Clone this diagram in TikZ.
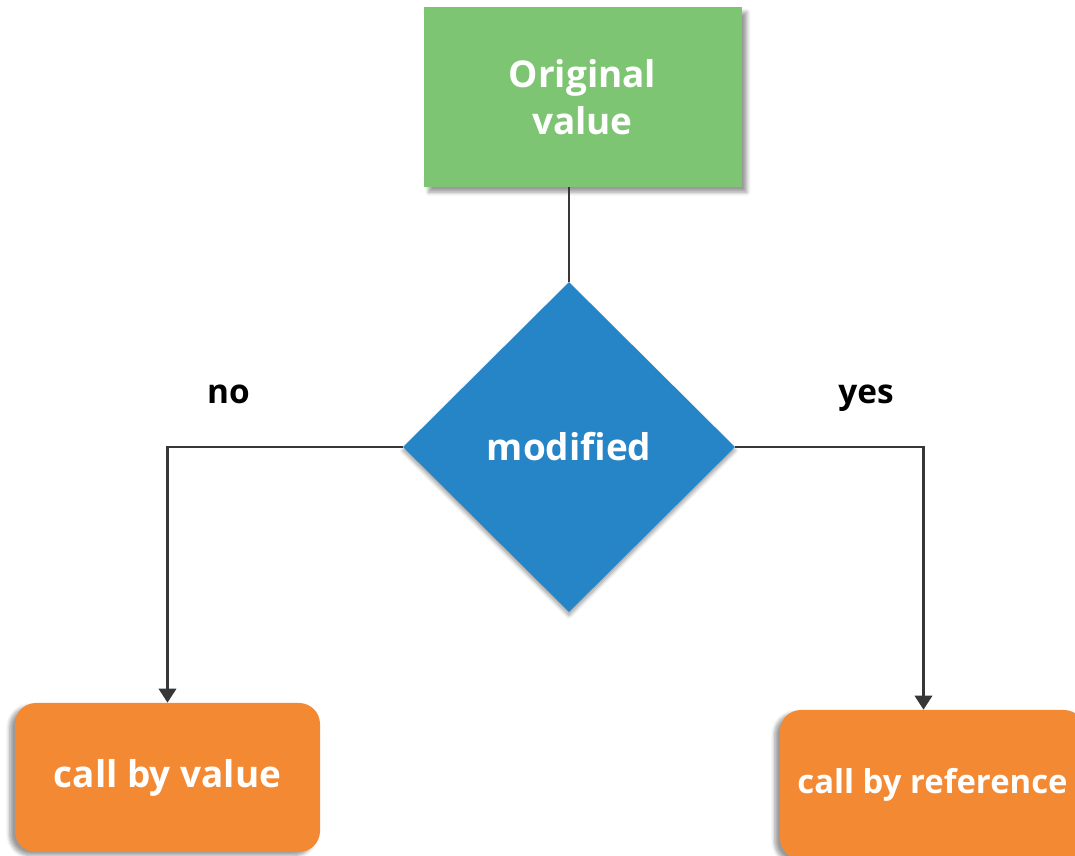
\documentclass[tikz,border=0pt]{standalone}
\usepackage{fontspec}
\setmainfont{Open Sans}
\usepackage{tikz}
\usetikzlibrary{shapes.geometric,arrows.meta,shadows.blur}
\definecolor{boxgreen}{RGB}{125,197,114}
\definecolor{diamondblue}{RGB}{37,133,199}
\definecolor{boxorange}{RGB}{244,137,52}
\definecolor{linegray}{RGB}{55,55,55}
\tikzset{
	flowtext/.style={text=white,font=\fontsize{21}{27}\selectfont\bfseries,align=center},
	startbox/.style={flowtext,fill=boxgreen,minimum width=6.36cm,minimum height=3.6cm,blur shadow={shadow xshift=3pt,shadow yshift=-3pt,shadow blur steps=6}},
	decision/.style={flowtext,diamond,aspect=1,inner sep=0pt,fill=diamondblue,minimum width=6.64cm,minimum height=6.6cm,blur shadow={shadow xshift=0pt,shadow yshift=-2pt,shadow blur steps=6}},
	endbox/.style={flowtext,fill=boxorange,rounded corners=0.42cm,minimum width=6.1cm,minimum height=2.98cm,blur shadow={shadow xshift=-3pt,shadow yshift=-2pt,shadow blur steps=6}},
	branch/.style={draw=linegray,line width=1.3pt},
	answer/.style={anchor=base,font=\fontsize{19}{24}\selectfont\bfseries}
}

\begin{document}
\begin{tikzpicture}
					\useasboundingbox (0,0) rectangle (21.5,17.12);
					
					%nodes of the flow chart
					\node[startbox] (orig) at (11.65,15.18) {Original\\value};
					\node[decision] (modified) at (11.38,8.18) {modified};
					\node[endbox] (byvalue) at (3.35,1.57) {call by value};
					\node[endbox,font=\fontsize{18.7}{24}\selectfont\bfseries] (byref) at (18.65,1.43) {call by reference};
					
					%drawing the connectors
					\draw[branch] (modified.north) -- (modified.north |- orig.south);
					\draw[branch,-{Triangle[width=10pt,length=8pt]}] (modified.west) -| (byvalue.north);
					\draw[branch,-{Triangle[width=10pt,length=8pt]}] (modified.east) -| ([xshift=-0.18cm]byref.north);
					
					\node[answer] (no) at (4.57,9.04) {no};
					\node[answer] (yes) at (17.32,9.04) {yes};
				\end{tikzpicture}
\end{document}
